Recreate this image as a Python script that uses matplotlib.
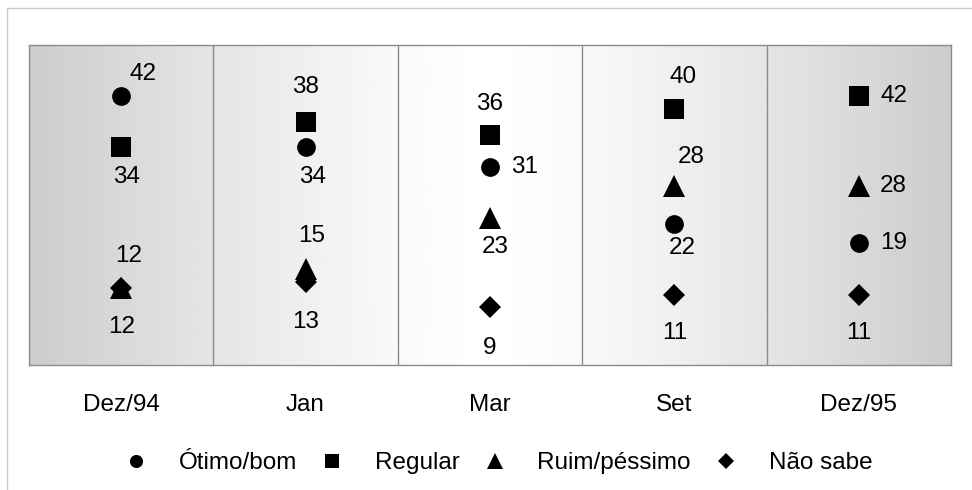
import matplotlib
matplotlib.use("AGG")
import numpy as np
import matplotlib.pyplot as plt
from matplotlib.patches import Rectangle

plt.rcParams['font.family'] = ['Liberation Sans', 'DejaVu Sans']

### data ###
periodos = ["Dez/94", "Jan", "Mar", "Set", "Dez/95"]
series = ["Ótimo/bom", "Regular", "Ruim/péssimo", "Não sabe"]
otimo_bom = [42, 34, 31, 22, 19]
regular = [34, 38, 36, 40, 42]
ruim_pessimo = [12, 15, 23, 28, 28]
nao_sabe = [12, 13, 9, 11, 11]

valores = [otimo_bom, regular, ruim_pessimo, nao_sabe]
marcadores = ["o", "s", "^", "D"]
tamanhos = [13.5, 14.5, 15.5, 11]

# label offsets (points) for each series / period
offsets = [
    [(16, 16), (5, -21), (25, 0), (6, -17), (25, 0)],
    [(4, -21), (0, 25), (0, 22), (6, 23), (25, 0)],
    [(5, 23), (4, 24), (4, -21), (12, 21), (25, 0)],
    [(0, -28), (0, -29), (0, -29), (0, -28), (0, -28)],
]

fs = 17.5

fig = plt.figure(figsize=(9.72, 4.9), dpi=100)
fig.patches.append(Rectangle((7/972, -0.1), 1.2, (490-8)/490 + 0.1, transform=fig.transFigure,
                             fill=False, edgecolor="#c8c8c8", linewidth=1.0))
ax = fig.add_axes([29/972, 125/490, 922/972, 320/490])

### gradient background ###
xg = np.linspace(-0.5, 4.5, 500)
grad = 1 - 0.2*(np.abs(xg - 2)/2.5)**1.3
ax.imshow(grad[np.newaxis, :], extent=(-0.5, 4.5, 0, 50), aspect="auto",
          cmap="gray", vmin=0, vmax=1, zorder=0, interpolation="bilinear")

for xv in [0.5, 1.5, 2.5, 3.5]:
    ax.axvline(xv, color="#8c8c8c", linewidth=1.0, zorder=1)

x = np.arange(len(periodos))
for i in range(len(series)):
    ax.plot(x, valores[i], linestyle="none", marker=marcadores[i], markersize=tamanhos[i],
            color="black", markeredgewidth=0, label=series[i], zorder=3)
    for j in range(len(periodos)):
        ax.annotate(str(valores[i][j]), xy=(x[j], valores[i][j]), xytext=offsets[i][j],
                    textcoords="offset points", ha="center", va="center", fontsize=fs, zorder=4)

ax.set_xlim(-0.5, 4.5)
ax.set_ylim(0, 50)
ax.set_yticks([])
ax.set_xticks(x)
ax.set_xticklabels(periodos, fontsize=fs)
ax.tick_params(axis="x", length=0, pad=21)
for s in ax.spines.values():
    s.set_color("#8c8c8c")
    s.set_linewidth(1.0)

handles = [plt.Line2D([], [], linestyle="none", marker=marcadores[i], color="black",
                      markersize=tamanhos[i]*0.7, markeredgewidth=0) for i in range(len(series))]
fig.legend(handles, series, loc="center", bbox_to_anchor=(498/972, 27/490), ncol=4,
           frameon=False, fontsize=fs, handlelength=1.0, handletextpad=1.25, columnspacing=0.95)

fig.savefig("out.png", dpi=100)
